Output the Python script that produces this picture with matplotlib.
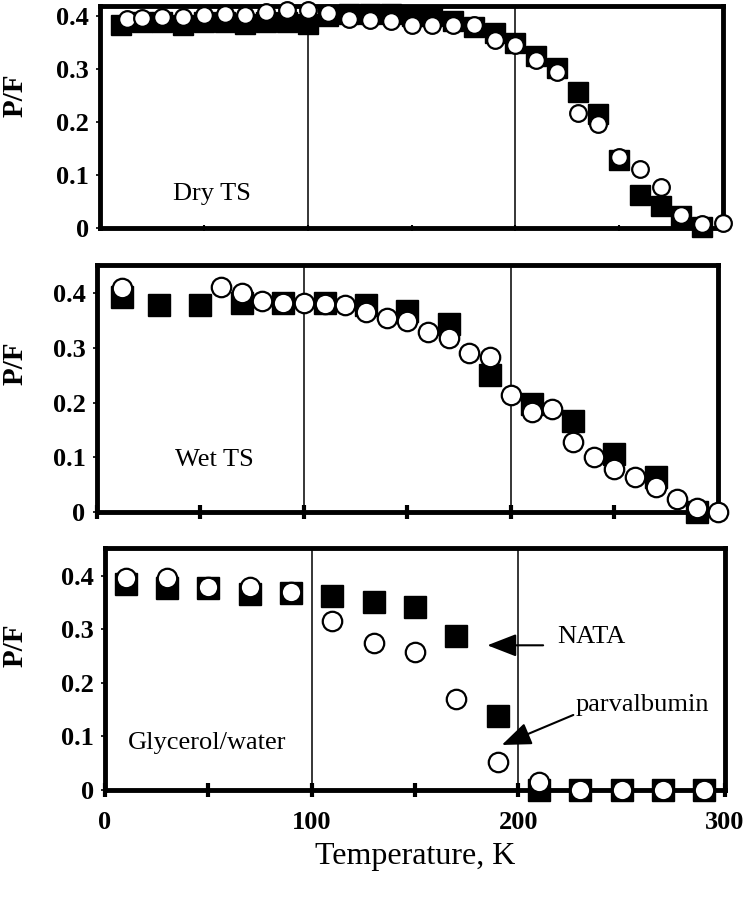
import matplotlib
matplotlib.use("Agg")
import matplotlib.pyplot as plt

plt.rcParams['font.family'] = ['Liberation Serif', 'DejaVu Serif']

# Dry TS
dry_sq_x = [10, 20, 30, 40, 50, 60, 70, 80, 90, 100, 110, 120, 130, 140, 150,
            160, 170, 180, 190, 200, 210, 220, 230, 240, 250, 260, 270, 280, 290]
dry_sq_y = [0.382, 0.388, 0.388, 0.382, 0.388, 0.388, 0.384, 0.388, 0.388, 0.385,
            0.400, 0.402, 0.402, 0.402, 0.400, 0.400, 0.390, 0.378, 0.367, 0.348,
            0.323, 0.301, 0.257, 0.214, 0.128, 0.062, 0.041, 0.023, 0.001]
dry_ci_x = [13, 20, 30, 40, 50, 60, 70, 80, 90, 100, 110, 120, 130, 140, 150,
            160, 170, 180, 190, 200, 210, 220, 230, 240, 250, 260, 270, 280, 290, 300]
dry_ci_y = [0.394, 0.395, 0.397, 0.398, 0.401, 0.403, 0.401, 0.407, 0.411, 0.411,
            0.404, 0.394, 0.392, 0.390, 0.382, 0.382, 0.382, 0.382, 0.354, 0.345,
            0.316, 0.294, 0.216, 0.196, 0.134, 0.111, 0.078, 0.024, 0.008, 0.010]

# Wet TS
wet_sq_x = [12, 30, 50, 70, 90, 110, 130, 150, 170, 190, 210, 230, 250, 270, 290]
wet_sq_y = [0.393, 0.379, 0.379, 0.383, 0.383, 0.382, 0.379, 0.368, 0.343, 0.251,
            0.198, 0.166, 0.106, 0.064, 0.0]
wet_ci_x = [12, 60, 70, 80, 90, 100, 110, 120, 130, 140, 150, 160, 170, 180, 190,
            200, 210, 220, 230, 240, 250, 260, 270, 280, 290, 300]
wet_ci_y = [0.409, 0.412, 0.400, 0.386, 0.382, 0.382, 0.381, 0.378, 0.366, 0.354,
            0.349, 0.330, 0.318, 0.290, 0.284, 0.214, 0.183, 0.189, 0.128, 0.101,
            0.079, 0.064, 0.046, 0.023, 0.006, 0.000]

# Glycerol/water
gly_x = [10, 30, 50, 70, 90, 110, 130, 150, 170, 190, 210, 230, 250, 270, 290]
gly_sq_y = [0.384, 0.376, 0.376, 0.365, 0.368, 0.362, 0.351, 0.342, 0.288, 0.138,
            0.0, 0.0, 0.0, 0.0, 0.0]
gly_ci_y = [0.395, 0.395, 0.379, 0.379, 0.370, 0.315, 0.274, 0.258, 0.170, 0.052,
            0.014, 0.0, 0.0, 0.0, 0.0]

yticks = [0, 0.1, 0.2, 0.3, 0.4]
ytick_labels = ['0', '0.1', '0.2', '0.3', '0.4']
xticks = [0, 50, 100, 150, 200, 250, 300]

W, H = 748, 899
fig = plt.figure(figsize=(W / 100, H / 100), dpi=100)


def make_ax(left, right, top, bottom, ytop):
    ax = fig.add_axes([left / W, 1 - bottom / H, (right - left) / W, (bottom - top) / H])
    ax.set_xlim(0, 300)
    ax.set_ylim(0, ytop)
    for s in ax.spines.values():
        s.set_linewidth(3.5)
    ax.axvline(100, color='black', lw=1.1, zorder=1)
    ax.axvline(200, color='black', lw=1.1, zorder=1)
    ax.set_yticks(yticks)
    ax.set_yticklabels(ytick_labels, fontsize=19, fontweight='bold')
    ax.tick_params(axis='y', direction='out', length=3, width=1.2, pad=5)
    ax.set_xticks(xticks)
    ax.set_ylabel('P/F', fontsize=21, fontweight='bold')
    # put the label's right edge about 29 px from the figure's left side
    ax.yaxis.set_label_coords((29 - left) / (right - left), 0.6)
    return ax


def draw(ax, sx, sy, cx, cy, ssize, csize):
    ax.plot(sx, sy, 's', color='black', markersize=ssize, clip_on=False, zorder=3)
    ax.plot(cx, cy, 'o', markerfacecolor='white', markeredgecolor='black',
            markeredgewidth=1.6, markersize=csize, clip_on=False, zorder=4)


ax1 = make_ax(100, 723, 6, 228, 0.418)
draw(ax1, dry_sq_x, dry_sq_y, dry_ci_x, dry_ci_y, 14.5, 12)
ax1.tick_params(axis='x', direction='inout', length=5, width=1.5, labelbottom=False)
ax1.text(35, 0.064, 'Dry TS', fontsize=19, va='center')

ax2 = make_ax(96.7, 718, 265, 511.7, 0.452)
draw(ax2, wet_sq_x, wet_sq_y, wet_ci_x, wet_ci_y, 16, 14)
ax2.tick_params(axis='x', direction='inout', length=10, width=3, labelbottom=False)
ax2.text(38, 0.095, 'Wet TS', fontsize=19, va='center')

ax3 = make_ax(105, 725, 548.3, 790, 0.451)
draw(ax3, gly_x, gly_sq_y, gly_x, gly_ci_y, 16.5, 14)
ax3.set_xticks([0, 100, 200, 300])
ax3.set_xticks([50, 150, 250], minor=True)
ax3.tick_params(axis='x', which='both', direction='inout', length=10, width=3, pad=10)
ax3.set_xticklabels(['0', '100', '200', '300'], fontsize=19, fontweight='bold')
ax3.text(11, 0.087, 'Glycerol/water', fontsize=19, va='center')
ax3.set_xlabel('Temperature, K', fontsize=23, labelpad=6)

arrow = dict(arrowstyle='-|>,head_length=0.9,head_width=0.35', color='black',
             lw=1.5, mutation_scale=20, shrinkA=0, shrinkB=0)
ax3.annotate('', xy=(185, 0.270), xytext=(212, 0.270), arrowprops=arrow)
ax3.text(219, 0.286, 'NATA', fontsize=19, va='center')
ax3.annotate('', xy=(192, 0.084), xytext=(226.6, 0.140), arrowprops=arrow)
ax3.text(227.5, 0.159, 'parvalbumin', fontsize=19, va='center')

fig.savefig('out.png', dpi=100)
